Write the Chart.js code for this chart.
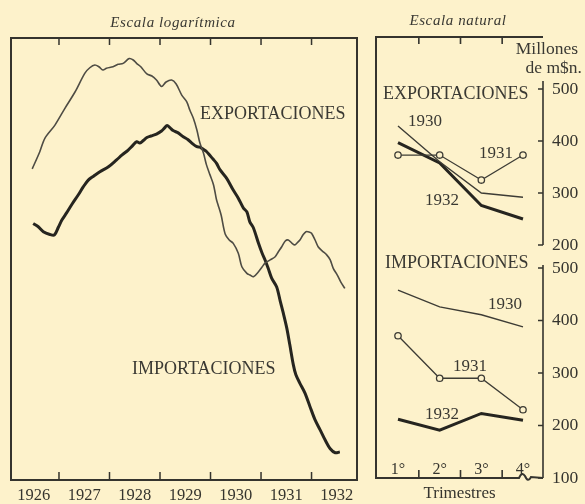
<!DOCTYPE html>
<html><head><meta charset="utf-8">
<script src="https://cdn.jsdelivr.net/npm/chart.js@4"></script>
<style>
html,body{margin:0;padding:0;background:#fdf2cb;}
#wrap{position:relative;width:585px;height:504px;overflow:hidden;font-family:"Liberation Serif","DejaVu Serif",serif;color:#3a3933;}
canvas{position:absolute;top:0;}
.t{position:absolute;white-space:nowrap;line-height:1;transform:translateY(-50%);}
.c{transform:translate(-50%,-50%);}
.r{transform:translate(-100%,-50%);}
.i{font-style:italic;letter-spacing:0.6px;}
</style></head><body>
<div id="wrap">
<canvas id="left" width="360" height="504" style="left:0"></canvas>
<canvas id="right" width="225" height="504" style="left:360px"></canvas>
<div class="t c i" style="left:173px;top:22px;font-size:15px">Escala logarítmica</div>
<div class="t c i" style="left:458px;top:20px;font-size:15px">Escala natural</div>
<div class="t r" style="left:578px;top:49px;font-size:17.5px">Millones</div>
<div class="t r" style="left:582px;top:68px;font-size:17.5px">de m$n.</div>
<div class="t" style="left:200px;top:113px;font-size:18px">EXPORTACIONES</div>
<div class="t" style="left:132px;top:368px;font-size:18px">IMPORTACIONES</div>
<div class="t" style="left:383px;top:93px;font-size:18px">EXPORTACIONES</div>
<div class="t" style="left:385px;top:262px;font-size:18px">IMPORTACIONES</div>
<div class="t" style="left:408px;top:120px;font-size:17px">1930</div>
<div class="t" style="left:479px;top:152px;font-size:17px">1931</div>
<div class="t" style="left:425px;top:199px;font-size:17px">1932</div>
<div class="t" style="left:488px;top:303px;font-size:17px">1930</div>
<div class="t" style="left:453px;top:365px;font-size:17px">1931</div>
<div class="t" style="left:425px;top:413px;font-size:17px">1932</div>
</div>
<script>
// ---------- Left panel (logarithmic scale) ----------
const yearLabels = ['1926','1927','1928','1929','1930','1931','1932'];
const yearBoundaries = [1927,1928,1929,1930,1931,1932];

const exportDates = [1926.47,1926.62,1926.72,1926.92,1927.12,1927.32,1927.51,1927.61,1927.71,1927.79,1927.87,1927.94,1928.07,1928.17,1928.27,1928.39,1928.47,1928.54,1928.62,1928.74,1928.84,1928.93,1929.03,1929.12,1929.23,1929.32,1929.43,1929.53,1929.59,1929.66,1929.73,1929.79,1929.86,1929.92,1929.99,1930.06,1930.12,1930.15,1930.21,1930.29,1930.37,1930.45,1930.55,1930.62,1930.72,1930.78,1930.85,1930.95,1931.02,1931.08,1931.18,1931.28,1931.34,1931.41,1931.48,1931.54,1931.61,1931.67,1931.73,1931.77,1931.83,1931.89,1931.95,1932.00,1932.07,1932.13,1932.21,1932.30,1932.37,1932.43,1932.51,1932.58,1932.66];
const exportValues = [1804,1887,1954,2023,2115,2207,2316,2350,2367,2356,2336,2347,2356,2371,2377,2407,2398,2376,2356,2312,2300,2276,2238,2264,2276,2252,2188,2150,2104,2059,1997,1930,1881,1823,1776,1730,1663,1642,1599,1522,1498,1485,1447,1397,1373,1367,1361,1379,1396,1410,1422,1434,1452,1472,1494,1498,1486,1479,1490,1498,1518,1531,1530,1525,1498,1472,1456,1441,1422,1391,1367,1342,1320];

const importDates = [1926.49,1926.59,1926.69,1926.82,1926.91,1926.99,1927.06,1927.15,1927.26,1927.38,1927.48,1927.58,1927.69,1927.81,1927.98,1928.14,1928.25,1928.37,1928.45,1928.54,1928.60,1928.67,1928.74,1928.82,1928.93,1929.03,1929.09,1929.14,1929.20,1929.26,1929.36,1929.46,1929.55,1929.63,1929.73,1929.79,1929.85,1929.92,1929.99,1930.05,1930.12,1930.19,1930.32,1930.45,1930.55,1930.65,1930.72,1930.78,1930.85,1930.95,1931.02,1931.08,1931.14,1931.21,1931.31,1931.38,1931.44,1931.51,1931.57,1931.64,1931.69,1931.77,1931.87,1931.97,1932.07,1932.17,1932.27,1932.37,1932.47,1932.56];
const importValues = [1564,1551,1531,1520,1518,1550,1579,1608,1646,1685,1721,1752,1771,1791,1814,1847,1871,1895,1915,1937,1930,1943,1958,1966,1976,1992,2008,2021,2008,1994,1982,1962,1948,1930,1912,1910,1900,1888,1868,1851,1830,1799,1760,1707,1671,1629,1612,1570,1546,1485,1448,1422,1392,1356,1325,1277,1238,1190,1139,1081,1053,1030,1004,969,936,912,888,868,859,861];

// ---------- Right panel (natural scale, quarterly) ----------
const quarters = [1,2,3,4];
const quarterLabels = ['1°','2°','3°','4°'];
const exportTicks = [200,300,400,500];
const importTicks = [100,200,300,400,500];
const exp1930 = [429,360,300,292];
const exp1931 = [373,373,325,373];
const exp1932 = [397,358,276,250];
const imp1930 = [458,426,411,388];
const imp1931 = [371,290,290,230];
const imp1932 = [212,191,223,210];

const INK = '#35342e';
const BG = '#fdf2cb';
const FONT = '"Liberation Serif","DejaVu Serif",serif';
const pts = (xs, ys) => xs.map((x, i) => ({x, y: ys[i]}));

const frameLeft = {
  id: 'frameLeft',
  afterDatasetsDraw(chart) {
    const {ctx, chartArea: a, scales: {x}} = chart;
    ctx.save();
    ctx.strokeStyle = INK;
    ctx.lineWidth = 2;
    ctx.strokeRect(a.left, a.top, a.right - a.left, a.bottom - a.top);
    ctx.lineWidth = 1.5;
    yearBoundaries.forEach(v => {
      const px = x.getPixelForValue(v);
      ctx.beginPath();
      ctx.moveTo(px, a.bottom); ctx.lineTo(px, a.bottom - 8);
      ctx.moveTo(px, a.top); ctx.lineTo(px, a.top + 7);
      ctx.stroke();
    });
    ctx.restore();
  }
};

new Chart(document.getElementById('left'), {
  type: 'line',
  data: {datasets: [
    {label: 'Exportaciones', data: pts(exportDates, exportValues), borderColor: '#4e4c44', borderWidth: 1.6, pointRadius: 0, tension: 0.3},
    {label: 'Importaciones', data: pts(importDates, importValues), borderColor: '#26251f', borderWidth: 3, pointRadius: 0, tension: 0.3}
  ]},
  options: {
    responsive: false, animation: false, events: [],
    layout: {padding: {left: 11, right: 3, top: 38, bottom: 0}},
    plugins: {legend: {display: false}, tooltip: {enabled: false}},
    scales: {
      x: {
        type: 'linear', min: 1926.05, max: 1932.9,
        afterBuildTicks: s => { s.ticks = yearLabels.map(l => ({value: Number(l) + 0.5})); },
        afterFit: s => { s.height = 24; },
        grid: {display: false, drawTicks: false}, border: {display: false},
        ticks: {padding: 6, color: INK, autoSkip: false, maxRotation: 0, font: {family: FONT, size: 16.5},
          callback: (v, i) => yearLabels[i]}
      },
      y: {type: 'logarithmic', display: false, min: 800, max: 2540}
    }
  },
  plugins: [frameLeft]
});

const frameRight = {
  id: 'frameRight',
  afterDatasetsDraw(chart) {
    const {ctx, chartArea: a, scales: {x, yExp, yImp}} = chart;
    ctx.save();
    ctx.strokeStyle = INK;
    ctx.lineWidth = 2;
    const wx = x.getPixelForValue(quarters[quarters.length - 1]) - 4;
    ctx.beginPath();
    ctx.moveTo(a.right, a.top); ctx.lineTo(a.left, a.top); ctx.lineTo(a.left, a.bottom); ctx.lineTo(wx, a.bottom);
    ctx.quadraticCurveTo(wx + 3, a.bottom - 7, wx + 6, a.bottom - 2);
    ctx.quadraticCurveTo(wx + 9, a.bottom + 5, wx + 12, a.bottom - 1);
    ctx.lineTo(a.right, a.bottom);
    ctx.stroke();
    ctx.lineWidth = 1.6;
    ctx.beginPath();
    ctx.moveTo(a.right, yExp.getPixelForValue(500) - 8); ctx.lineTo(a.right, yExp.getPixelForValue(200));
    ctx.moveTo(a.right, yImp.getPixelForValue(500) - 3); ctx.lineTo(a.right, a.bottom);
    exportTicks.forEach(v => { const p = yExp.getPixelForValue(v); ctx.moveTo(a.right - 5, p); ctx.lineTo(a.right, p); });
    importTicks.forEach(v => { const p = yImp.getPixelForValue(v); ctx.moveTo(a.right - 5, p); ctx.lineTo(a.right, p); });
    quarters.slice(1).forEach(q => {
      const px = x.getPixelForValue(q - 0.5);
      ctx.moveTo(px, a.bottom); ctx.lineTo(px, a.bottom - 8);
      ctx.moveTo(px, a.top); ctx.lineTo(px, a.top + 7);
    });
    ctx.stroke();
    ctx.restore();
  }
};

const thin = {borderColor: '#3d3c35', borderWidth: 1.4, pointRadius: 0, tension: 0};
const circ = {borderColor: '#3d3c35', borderWidth: 1.3, pointRadius: 3.2, pointBorderWidth: 1.3, pointBackgroundColor: BG, pointBorderColor: '#3d3c35', tension: 0};
const thick = {borderColor: '#26251f', borderWidth: 3, pointRadius: 0, tension: 0};

new Chart(document.getElementById('right'), {
  type: 'line',
  data: {datasets: [
    Object.assign({label: 'Exp 1930', data: pts(quarters, exp1930), yAxisID: 'yExp'}, thin),
    Object.assign({label: 'Exp 1931', data: pts(quarters, exp1931), yAxisID: 'yExp'}, circ),
    Object.assign({label: 'Exp 1932', data: pts(quarters, exp1932), yAxisID: 'yExp'}, thick),
    Object.assign({label: 'Imp 1930', data: pts(quarters, imp1930), yAxisID: 'yImp'}, thin),
    Object.assign({label: 'Imp 1931', data: pts(quarters, imp1931), yAxisID: 'yImp'}, circ),
    Object.assign({label: 'Imp 1932', data: pts(quarters, imp1932), yAxisID: 'yImp'}, thick)
  ]},
  options: {
    responsive: false, animation: false, events: [],
    layout: {padding: {left: 16, right: 0, top: 37, bottom: 0}},
    plugins: {legend: {display: false}, tooltip: {enabled: false}},
    scales: {
      x: {
        type: 'linear', min: 0.472, max: 4.48,
        afterBuildTicks: s => { s.ticks = quarters.map(v => ({value: v})); },
        afterFit: s => { s.height = 26; },
        grid: {display: false, drawTicks: false}, border: {display: false},
        ticks: {mirror: true, padding: -1, color: INK, autoSkip: false, maxRotation: 0, font: {family: FONT, size: 16},
          callback: (v, i) => quarterLabels[i]},
        title: {display: true, text: 'Trimestres', color: INK, padding: {top: 0, bottom: 0}, font: {family: FONT, size: 17}}
      },
      yExp: {
        type: 'linear', position: 'right', stack: 'r', stackWeight: 220, min: 177, max: 600,
        afterBuildTicks: s => { s.ticks = exportTicks.map(v => ({value: v})); },
        afterFit: s => { s.width = 42; },
        grid: {display: false, drawTicks: false}, border: {display: false},
        ticks: {padding: 9, color: INK, font: {family: FONT, size: 17.5}}
      },
      yImp: {
        type: 'linear', position: 'right', stack: 'r', stackWeight: 221, min: 100, max: 521,
        afterBuildTicks: s => { s.ticks = importTicks.map(v => ({value: v})); },
        afterFit: s => { s.width = 42; },
        grid: {display: false, drawTicks: false}, border: {display: false},
        ticks: {padding: 9, color: INK, font: {family: FONT, size: 17.5}}
      }
    }
  },
  plugins: [frameRight]
});
</script>
</body></html>
